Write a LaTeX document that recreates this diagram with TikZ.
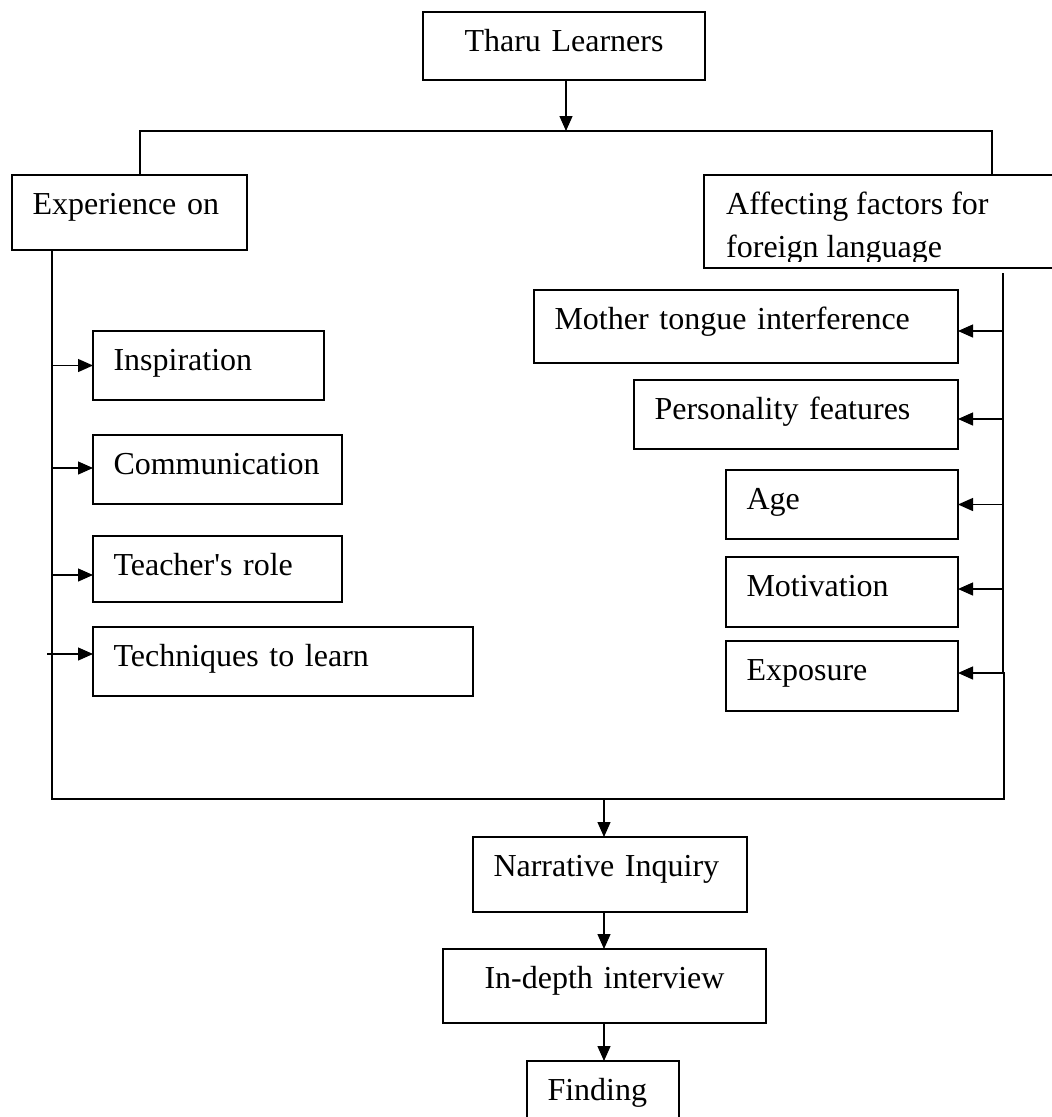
\documentclass[tikz,border=0pt]{standalone}
\usepackage{fontspec}
\setmainfont{Liberation Serif}
\usetikzlibrary{arrows.meta}
\tikzset{
  box/.style={draw, line width=1.3pt, anchor=north west, outer sep=0pt,
    inner xsep=20.5pt, inner ysep=0pt, text height=39.5pt, align=left,
    font=\fontsize{32}{43}\selectfont},
  conn/.style={line width=1.3pt},
  arr/.style={conn, -{Triangle[length=15pt,width=13pt]}}
}
\begin{document}
\begin{tikzpicture}[x=1pt,y=-1pt]
\useasboundingbox (0,0) rectangle (1052,1117);
% top
\node[box, align=center, text width=241pt, text depth=28.5pt] (tharu) at (423,12) {Tharu Learners};
\node[box, text width=194pt, text depth=35.5pt] (exp) at (12,175) {Experience on};
\node[draw, line width=1.3pt, anchor=north west, outer sep=0pt, inner sep=0pt,
  minimum width=380pt, minimum height=93pt] (aff) at (704,175) {};
\begin{scope}
  \clip (704,175) rectangle (1052,261);
  \node[anchor=base west, inner sep=0pt, align=left, font=\fontsize{32}{43}\selectfont]
    (afftext) at (726,257) {Affecting factors for\\foreign language};
\end{scope}
% left column
\node[box, text width=190pt, text depth=29.5pt] (insp) at (93,331) {Inspiration};
\node[box, text width=208pt, text depth=29.5pt] (comm) at (93,435) {Communication};
\node[box, text width=208pt, text depth=26.5pt] (teach) at (93,536) {Teacher\textquotesingle s role};
\node[box, text width=339pt, text depth=29.5pt] (tech) at (93,627) {Techniques to learn};
% right column
\node[box, text width=383pt, text depth=33.5pt] (mother) at (534,290) {Mother tongue interference};
\node[box, text width=283pt, text depth=29.5pt] (pers) at (634,380) {Personality features};
\node[box, text width=191pt, text depth=29.5pt] (age) at (726,470) {Age};
\node[box, text width=191pt, text depth=30.5pt] (motiv) at (726,557) {Motivation};
\node[box, text width=191pt, text depth=30.5pt] (expo) at (726,641) {Exposure};
% bottom
\node[box, text width=233pt, text depth=35.5pt] (narr) at (473,837) {Narrative Inquiry};
\node[box, align=center, text width=282pt, text depth=34.5pt] (indepth) at (443,949) {In-depth interview};
\node[box, text width=111pt, text depth=40.5pt] (finding) at (527,1061) {Finding};
% coordinates
\coordinate (tj) at (566,131);
\coordinate (hl) at (140,131);
\coordinate (hr) at (992,131);
\coordinate (ls) at (52,799);
\coordinate (lt) at (47,799);
\coordinate (rs) at (1003,273);
\coordinate (ej) at (1004,673);
\coordinate (rb) at (1004,799);
\coordinate (bj) at (604,799);
% top connectors
\draw[arr] (tharu.south -| tj) -- (tj);
\draw[conn] (exp.north -| hl) -- (hl) -- (hr) -- (aff.north -| hr);
% spine
\draw[conn] (rs) -- (rs |- ej) -- (ej) -- (rb) -- (ls) -- (exp.south -| ls);
% left arrows
\draw[arr] (insp.west -| ls) -- (insp.west);
\draw[arr] ([yshift=1.5pt]comm.west -| ls) -- ([yshift=1.5pt]comm.west);
\draw[arr] ([yshift=-6pt]teach.west -| ls) -- ([yshift=-6pt]teach.west);
\draw[arr] ([yshift=7.5pt]tech.west -| lt) -- ([yshift=7.5pt]tech.west);
% right arrows
\draw[arr] ([yshift=-4.5pt]mother.east -| rs) -- ([yshift=-4.5pt]mother.east);
\draw[arr] ([yshift=-4.5pt]pers.east -| rs) -- ([yshift=-4.5pt]pers.east);
\draw[arr] (age.east -| rs) -- (age.east);
\draw[arr] ([yshift=3pt]motiv.east -| rs) -- ([yshift=3pt]motiv.east);
\draw[arr] (ej) -- (ej -| expo.east);
% bottom connectors
\draw[arr] (bj) -- (narr.north -| bj);
\draw[arr] (narr.south -| bj) -- (indepth.north -| bj);
\draw[arr] (indepth.south -| bj) -- (finding.north -| bj);
\end{tikzpicture}
\end{document}
